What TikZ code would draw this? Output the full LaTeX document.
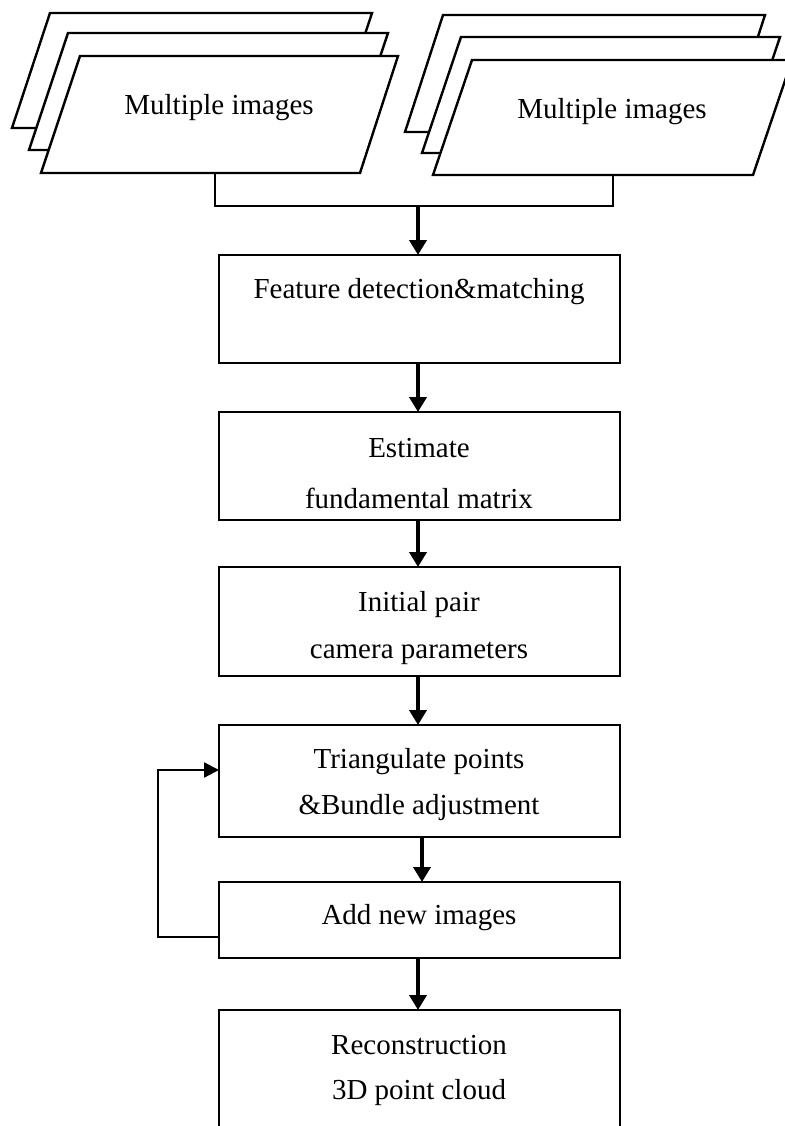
\documentclass[tikz,border=0pt]{standalone}
\usepackage{fontspec}
\setmainfont{Liberation Serif}
\usetikzlibrary{arrows.meta}
\begin{document}
\begin{tikzpicture}[x=1pt,y=-1pt,
  box/.style={draw=black,line width=2.6pt,fill=white,inner sep=0pt,outer sep=0pt},
  par/.style={draw=black,line width=2.4pt,fill=white,line join=miter},
  txt/.style={inner sep=0pt,font=\fontsize{29}{35}\selectfont},
  conn/.style={draw=black,line width=2.3pt},
  arr/.style={draw=black,line width=3.8pt,-{Triangle[width=17pt,length=15pt]}},
  larr/.style={draw=black,line width=2.3pt,-{Triangle[width=15pt,length=15pt]}}]
\useasboundingbox (0,0) rectangle (784,1126);
% left stack
\draw[par] (50,13) -- (372,13) -- (334,128) -- (12,128) -- cycle;
\draw[par] (68,33) -- (388,33) -- (349,150) -- (29,150) -- cycle;
\draw[par] (80,56) -- (398,56) -- (360,173) -- (41,173) -- cycle;
\node[txt] (imgL) at (219,108) {Multiple images};
% right stack
\draw[par] (443,15) -- (765,15) -- (727,132) -- (405,132) -- cycle;
\draw[par] (461,37) -- (780,37) -- (741,153) -- (422,153) -- cycle;
\draw[par] (472,60) -- (792,60) -- (753,175) -- (433,175) -- cycle;
\node[txt] (imgR) at (612,112) {Multiple images};
\coordinate (pL) at (215,173);
\coordinate (pR) at (613,175);
\coordinate (join) at (418,206);
% boxes
\node[box,minimum width=401pt,minimum height=108pt] (feat) at (419.5,309) {};
\node[box,minimum width=401pt,minimum height=108pt] (est) at (419.5,466) {};
\node[box,minimum width=401pt,minimum height=109pt] (init) at (419.5,621.5) {};
\node[box,minimum width=401pt,minimum height=112pt] (tri) at (419.5,781) {};
\node[box,minimum width=401pt,minimum height=76pt] (add) at (419.5,920) {};
\node[box,minimum width=401pt,minimum height=140pt] (rec) at (419.5,1080) {};
% texts
\node[txt] (featT) at (419,292) {Feature detection\&matching};
\node[txt] (estT1) at (419,448) {Estimate};
\node[txt] (estT2) at (419,498) {fundamental matrix};
\node[txt] (initT1) at (419,605) {Initial pair};
\node[txt] (initT2) at (419,653) {camera parameters};
\node[txt] (triT1) at (419,762) {Triangulate points};
\node[txt] (triT2) at (419,808) {\&Bundle adjustment};
\node[txt] (addT) at (419,918) {Add new images};
\node[txt] (recT1) at (419,1045) {Reconstruction};
\node[txt] (recT2) at (419,1093) {3D point cloud};
% connectors
\draw[conn] (pL) -- (pL |- join) -- (pR |- join) -- (pR);
\draw[arr] (join) -- (join |- feat.north);
\draw[arr] ([xshift=-1.5pt]feat.south) -- ([xshift=-1.5pt]est.north);
\draw[arr] ([xshift=-1.5pt]est.south) -- ([xshift=-1.5pt]init.north);
\draw[arr] ([xshift=-1.5pt]init.south) -- ([xshift=-1.5pt]tri.north);
\draw[arr] ([xshift=2.5pt]tri.south) -- ([xshift=2.5pt]add.north);
\draw[arr] ([xshift=-1.5pt]add.south) -- ([xshift=-1.5pt]rec.north);
\coordinate (lp) at (158,937);
\draw[larr] (add.west |- lp) -- (lp) -- (158,770) -- (tri.west |- 0,770);
\end{tikzpicture}
\end{document}
